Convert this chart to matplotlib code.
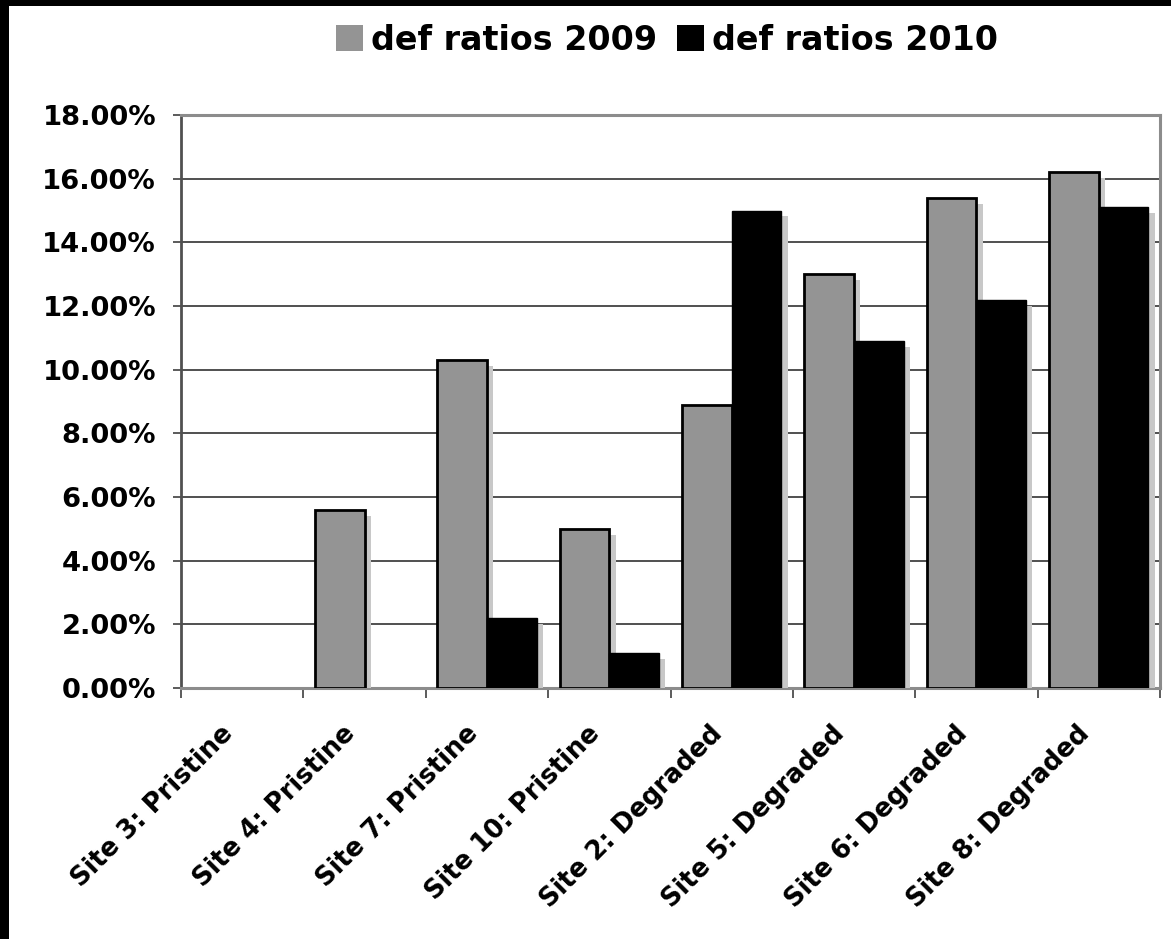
import matplotlib.pyplot as plt
import matplotlib.patheffects as pe
from matplotlib.patches import Rectangle
from matplotlib.transforms import ScaledTranslation
import numpy as np

sites = ['Site 3: Pristine', 'Site 4: Pristine', 'Site 7: Pristine', 'Site 10: Pristine',
         'Site 2: Degraded', 'Site 5: Degraded', 'Site 6: Degraded', 'Site 8: Degraded']
ratios_2009 = [0.0, 0.056, 0.103, 0.050, 0.089, 0.130, 0.154, 0.162]
ratios_2010 = [0.0, 0.0, 0.022, 0.011, 0.150, 0.109, 0.122, 0.151]

plt.rcParams['font.family'] = 'DejaVu Sans'
plt.rcParams['font.weight'] = 'bold'

fig = plt.figure(figsize=(11.71, 9.39), dpi=100)
ax = fig.add_axes([181 / 1171, 1 - 688 / 939, 979 / 1171, 573 / 939])

x = np.arange(len(sites))
w = 0.406
shadow = [pe.SimplePatchShadow(offset=(4.5, -4.3), shadow_rgbFace='#c8c8c8', alpha=1.0), pe.Normal()]

lw09 = [0 if v == 0 else 2.0 for v in ratios_2009]
lw10 = [0 if v == 0 else 1.0 for v in ratios_2010]
b1 = ax.bar(x - w / 2, ratios_2009, w, color='#949494', edgecolor='black', linewidth=lw09,
            label='def ratios 2009', zorder=3)
b2 = ax.bar(x + w / 2, ratios_2010, w, color='black', edgecolor='black', linewidth=lw10,
            label='def ratios 2010', zorder=4)
for bar, v in zip(list(b1) + list(b2), ratios_2009 + ratios_2010):
    if v > 0:
        bar.set_path_effects(shadow)

ax.set_xlim(-0.5, len(sites) - 0.5)
ax.set_ylim(0, 0.18)
ax.set_yticks(np.arange(0, 0.1801, 0.02))
ax.set_yticklabels(['%.2f%%' % (t * 100) for t in np.arange(0, 0.1801, 0.02)])
ax.tick_params(axis='y', length=6, width=1.2, color='#404040', pad=12, labelsize=19.7)
ax.yaxis.grid(True, color='#202020', linewidth=1.1, zorder=0)
ax.set_axisbelow(True)

# boundaries get the tick marks, centers get the labels
ax.set_xticks(x)
ax.set_xticklabels(sites, rotation=45, ha='right', va='center', rotation_mode='anchor')
ax.set_xticks(np.arange(-0.5, len(sites), 1.0), minor=True)
ax.tick_params(axis='x', which='major', length=0, pad=30, labelsize=18.6)
ax.tick_params(axis='x', which='minor', length=7, width=1.2, color='#404040')
for lab in ax.get_xticklabels():
    lab.set_transform(lab.get_transform() + ScaledTranslation(-0.13, 0, fig.dpi_scale_trans))

ax.spines['left'].set_color('#505050')
ax.spines['left'].set_linewidth(2)
for s in ['top', 'right', 'bottom']:
    ax.spines[s].set_color('#8c8c8c')
    ax.spines[s].set_linewidth(2.2)

fig.legend(handles=[b1, b2], loc='center', bbox_to_anchor=(667 / 1171, 1 - 40 / 939), ncol=2,
           frameon=False, fontsize=24, handlelength=0.8, handleheight=0.8,
           handletextpad=0.25, columnspacing=0.6, borderpad=0)

# dark frame along the top and left edges
fig.patches.append(Rectangle((0, 1 - 6 / 939), 1, 6 / 939, transform=fig.transFigure,
                             facecolor='black', edgecolor='none'))
fig.patches.append(Rectangle((0, 0), 9 / 1171, 1, transform=fig.transFigure,
                             facecolor='black', edgecolor='none'))

fig.savefig('out.png', dpi=100)
